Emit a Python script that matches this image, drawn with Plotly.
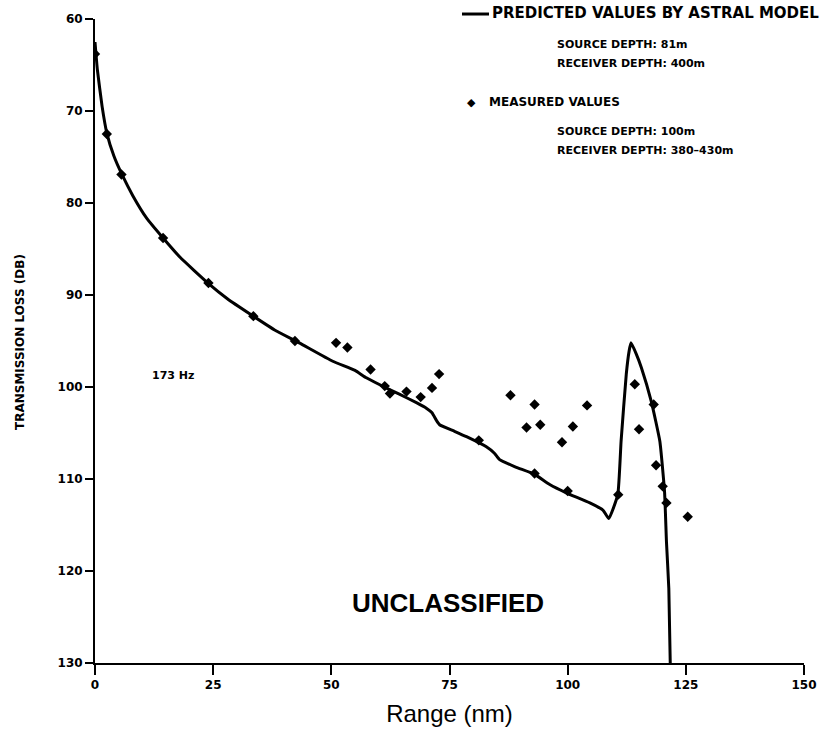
import plotly.graph_objects as go

# Predicted values (ASTRAL model)
pred_range = [0.0, 0.5, 1.5, 2.5, 4.0, 5.7, 8.0, 11.0, 14.4, 18.0, 23.9, 28.0, 33.2, 38.0,
              43.2, 50.3, 55.0, 57.4, 62.0, 64.5, 68.0, 70.1, 71.3, 72.2, 72.9, 76.0, 78.6,
              82.8, 84.5, 85.6, 89.0, 93.0, 96.2, 99.7, 104.7, 107.5, 108.7, 110.6, 111.3,
              112.4, 113.0, 113.4, 114.5, 115.6, 117.7, 119.5, 120.5, 120.9, 121.4, 121.7]
pred_loss = [62.5, 65.5, 69.5, 72.4, 74.9, 76.9, 79.2, 81.7, 83.8, 85.9, 88.7, 90.4, 92.2, 93.8,
             95.2, 97.2, 98.2, 99.0, 100.2, 100.8, 101.7, 102.3, 102.8, 103.6, 104.1, 104.8, 105.4,
             106.5, 107.2, 107.9, 108.7, 109.5, 110.6, 111.5, 112.6, 113.4, 114.3, 111.7, 105.9,
             98.6, 96.1, 95.2, 96.4, 97.9, 101.6, 105.9, 111.4, 116.8, 121.9, 130.0]

# Measured values
meas_range = [0.0, 2.5, 5.6, 14.4, 24.0, 33.5, 42.3, 51.0, 53.4, 58.3, 61.3, 62.4, 65.9,
              68.9, 71.3, 72.8, 81.2, 87.9, 91.3, 93.0, 94.2, 93.0, 98.8, 100.0, 101.1,
              104.1, 110.7, 114.2, 115.1, 118.2, 118.7, 120.1, 120.9, 125.4]
meas_loss = [63.8, 72.5, 76.9, 83.8, 88.7, 92.3, 95.0, 95.2, 95.7, 98.1, 99.9, 100.7, 100.5,
             101.1, 100.1, 98.6, 105.8, 100.9, 104.4, 101.9, 104.1, 109.4, 106.0, 111.3, 104.3,
             102.0, 111.7, 99.7, 104.6, 101.9, 108.5, 110.8, 112.6, 114.1]

x_ticks = [0, 25, 50, 75, 100, 125, 150]
y_ticks = [60, 70, 80, 90, 100, 110, 120, 130]

bold = dict(family="DejaVu Sans", color="black", weight="bold")

fig = go.Figure()
fig.add_trace(go.Scatter(x=pred_range, y=pred_loss, mode="lines",
                         line=dict(color="black", width=3, shape="spline", smoothing=0.4),
                         showlegend=False))
fig.add_trace(go.Scatter(x=meas_range, y=meas_loss, mode="markers",
                         marker=dict(symbol="diamond", size=8, color="black"),
                         showlegend=False))

fig.update_layout(
    width=837, height=735,
    margin=dict(l=95, r=33, t=18, b=71),
    plot_bgcolor="white", paper_bgcolor="white",
    xaxis=dict(range=[0, 150], tickvals=x_ticks, ticktext=[str(v) for v in x_ticks],
               showgrid=False, zeroline=False, showline=True, linecolor="black", linewidth=2,
               ticks="outside", ticklen=10, tickwidth=2, tickcolor="black",
               tickfont=dict(size=12, **bold),
               title=dict(text="Range (nm)", font=dict(family="Liberation Sans Narrow, Liberation Sans",
                                                       size=24, color="black"), standoff=14)),
    yaxis=dict(range=[130, 60], tickvals=y_ticks, ticktext=[str(v) for v in y_ticks],
               showgrid=False, zeroline=False, showline=True, linecolor="black", linewidth=2,
               ticks="outside", ticklen=8, tickwidth=2, tickcolor="black",
               tickfont=dict(size=12, **bold)),
)

anns = [
    dict(x=490, y=12, text="PREDICTED VALUES BY ASTRAL MODEL", size=15),
    dict(x=555, y=44, text="SOURCE DEPTH: 81m", size=11),
    dict(x=555, y=63, text="RECEIVER DEPTH: 400m", size=11),
    dict(x=487, y=101, text="MEASURED VALUES", size=12),
    dict(x=555, y=131, text="SOURCE DEPTH: 100m", size=11),
    dict(x=555, y=150, text="RECEIVER DEPTH: 380\u2013430m", size=11),
]
for a in anns:
    fig.add_annotation(xref="paper", yref="paper",
                       x=(a["x"] - 95) / 709, y=1 - (a["y"] - 18) / 646,
                       xanchor="left", yanchor="middle", showarrow=False,
                       text=a["text"], font=dict(size=a["size"], **bold))

# y-axis title
fig.add_annotation(xref="paper", yref="paper", x=(20 - 95) / 709, y=1 - (342 - 18) / 646,
                   text="TRANSMISSION LOSS (DB)", textangle=-90, showarrow=False,
                   xanchor="center", yanchor="middle", font=dict(size=12, **bold))

# legend symbols
fig.add_shape(type="line", xref="paper", yref="paper",
              x0=(462 - 95) / 709, x1=(489 - 95) / 709,
              y0=1 - (13 - 18) / 646, y1=1 - (13 - 18) / 646,
              line=dict(color="black", width=3))
fig.add_annotation(xref="paper", yref="paper", x=(472 - 95) / 709, y=1 - (101 - 18) / 646,
                   text="\u25c6", showarrow=False, font=dict(size=11, color="black"),
                   xanchor="center", yanchor="middle")

fig.add_annotation(x=16.5, y=98.8, text="173 Hz", showarrow=False,
                   font=dict(size=11, **bold))
fig.add_annotation(x=74.6, y=123.5, text="UNCLASSIFIED", showarrow=False,
                   font=dict(family="Liberation Sans", size=26, color="black", weight="bold"))

fig.write_html("out.html")
